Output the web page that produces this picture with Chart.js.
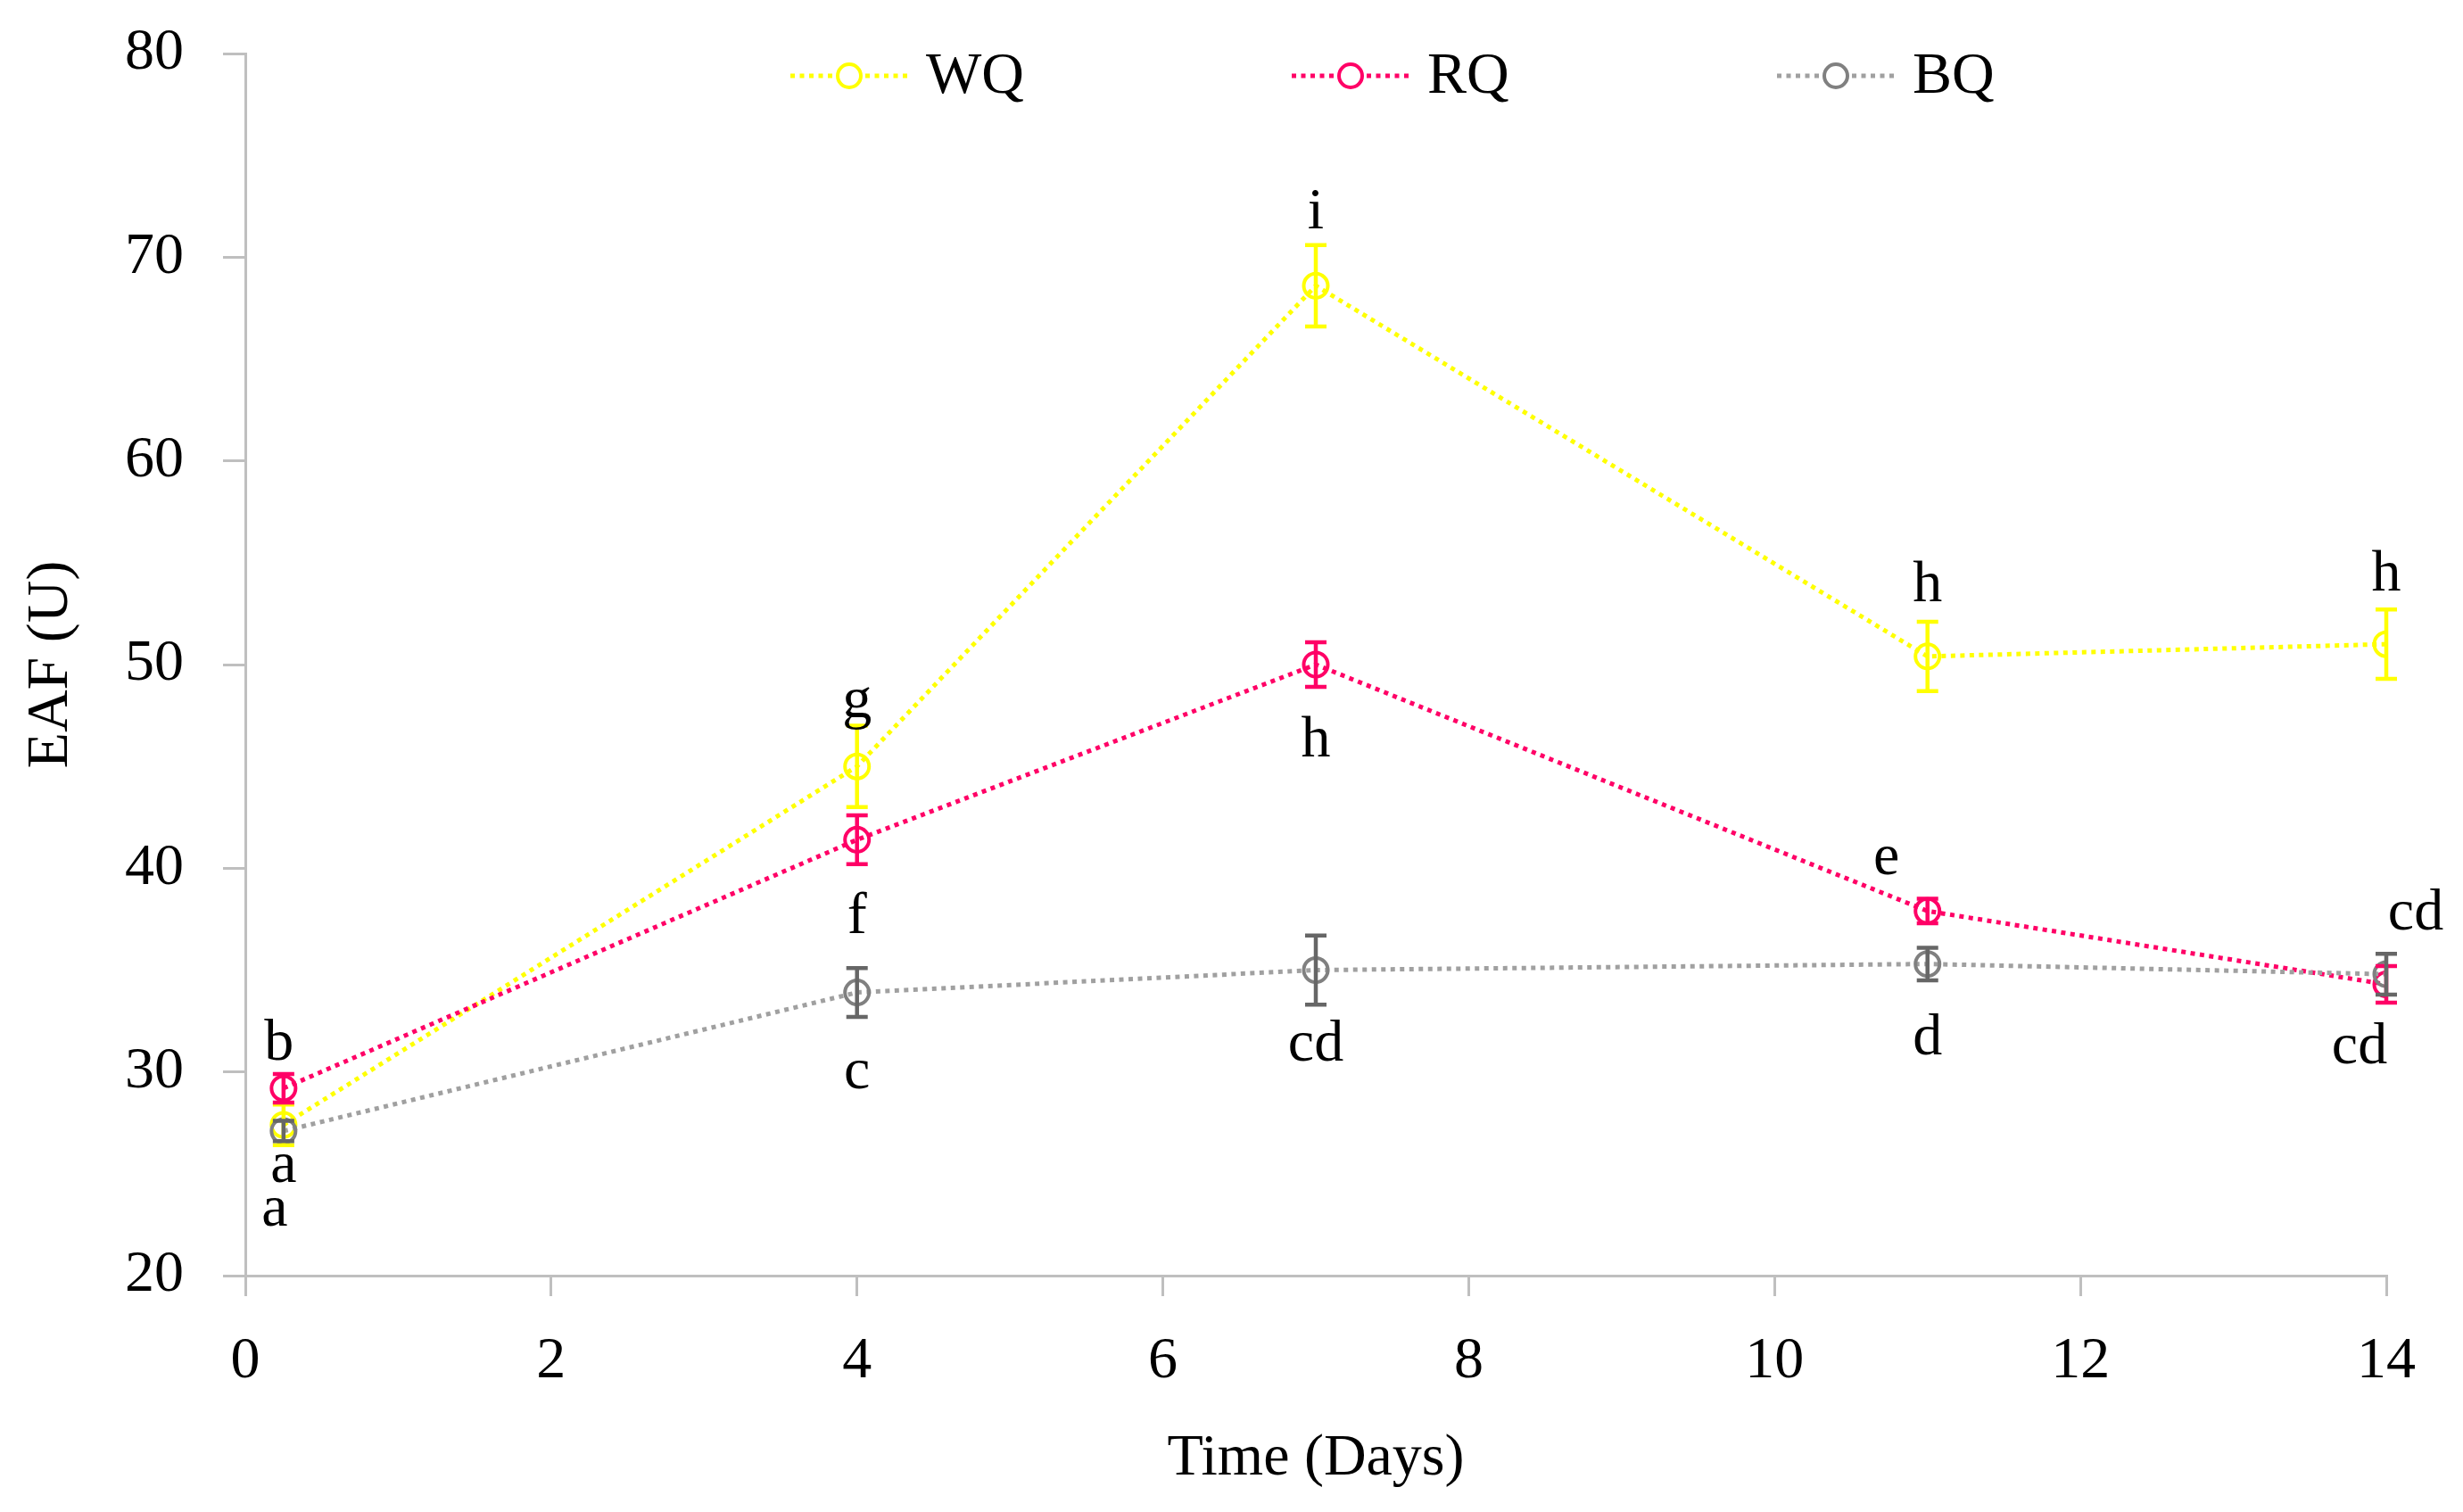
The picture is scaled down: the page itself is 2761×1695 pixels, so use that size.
<!DOCTYPE html>
<html>
<head>
<meta charset="utf-8">
<title>EAF over time</title>
<script src="https://cdn.jsdelivr.net/npm/chart.js@4.4.1/dist/chart.umd.min.js"></script>
<style>
    html, body { margin: 0; padding: 0; background: #fff; }
    #wrap { width: 2761px; height: 1695px; }
</style>
</head>
<body>
<div id="wrap"><canvas id="eafChart"></canvas></div>
<script>
// data
var days = [0.25, 4, 7, 11, 14];
var seriesNames = ['WQ', 'RQ', 'BQ'];
var wqValues = [27.4, 45.0, 68.6, 50.4, 51.0];
var rqValues = [29.2, 41.4, 50.0, 37.9, 34.3];
var bqValues = [27.1, 33.9, 35.0, 35.3, 34.8];
var wqErrors = [1.0, 2.0, 2.0, 1.7, 1.7];
var rqErrors = [0.7, 1.2, 1.1, 0.6, 0.9];
var bqErrors = [0.5, 1.2, 1.7, 0.8, 1.0];
var wqLetters = ['a', 'g', 'i', 'h', 'h'];
var rqLetters = ['b', 'f', 'h', 'e', 'cd'];
var bqLetters = ['a', 'c', 'cd', 'd', 'cd'];
var yTicks = [20, 30, 40, 50, 60, 70, 80];
var xTicks = [0, 2, 4, 6, 8, 10, 12, 14];

var FONT = '"Liberation Serif", "Times New Roman", serif';
var FS = 66;
var AXIS = '#BFBFBF';

// where each letter sits relative to its marker (px)
var letterOffsets = [
    [[-10, 96], [0, -72], [0, -82], [0, -79], [0, -77]],
    [[-5, -49], [0, 87], [0, 86], [-46, -59], [-30, 71]],
    [[0, 40], [0, 90], [0, 84], [0, 84], [33, -67]]
];

function points(vals) {
    return days.map(function(d, i) { return { x: d, y: vals[i] }; });
}

var styles = [
    { line: '#FFFF00', marker: '#FFFF00', bar: '#FFFF00' },
    { line: '#FF0066', marker: '#FF0066', bar: '#FF0066' },
    { line: '#A0A0A0', marker: '#808080', bar: '#666666' }
];
var allValues = [wqValues, rqValues, bqValues];
var allErrors = [wqErrors, rqErrors, bqErrors];
var allLetters = [wqLetters, rqLetters, bqLetters];

var datasets = seriesNames.map(function(name, i) {
    return {
        label: name,
        data: points(allValues[i]),
        borderColor: styles[i].line,
        borderWidth: 5,
        borderDash: [5, 5.5],
        pointRadius: 13.5,
        pointBorderWidth: 4,
        pointBorderColor: styles[i].marker,
        pointBackgroundColor: 'rgba(0,0,0,0)',
        tension: 0,
        order: 3 - i,
        errors: allErrors[i],
        letters: allLetters[i]
    };
});

var errorBars = {
    id: 'errorBars',
    afterDatasetsDraw: function(chart) {
        var ctx = chart.ctx;
        var y = chart.scales.y;
        chart.data.datasets.forEach(function(ds, i) {
            var meta = chart.getDatasetMeta(i);
            ctx.save();
            ctx.strokeStyle = styles[i].bar;
            ctx.lineWidth = 4.5;
            meta.data.forEach(function(pt, j) {
                var v = ds.data[j].y, e = ds.errors[j];
                var top = y.getPixelForValue(v + e);
                var bot = y.getPixelForValue(v - e);
                ctx.beginPath();
                ctx.moveTo(pt.x, top); ctx.lineTo(pt.x, bot);
                ctx.moveTo(pt.x - 12, top); ctx.lineTo(pt.x + 12, top);
                ctx.moveTo(pt.x - 12, bot); ctx.lineTo(pt.x + 12, bot);
                ctx.stroke();
            });
            ctx.restore();
        });
    }
};

var letterLabels = {
    id: 'letterLabels',
    afterDatasetsDraw: function(chart) {
        var ctx = chart.ctx;
        ctx.save();
        ctx.font = FS + 'px ' + FONT;
        ctx.fillStyle = '#000';
        ctx.textAlign = 'center';
        ctx.textBaseline = 'middle';
        chart.data.datasets.forEach(function(ds, i) {
            var meta = chart.getDatasetMeta(i);
            meta.data.forEach(function(pt, j) {
                var off = letterOffsets[i][j];
                ctx.fillText(ds.letters[j], pt.x + off[0], pt.y + off[1]);
            });
        });
        ctx.restore();
    }
};

var topLegend = {
    id: 'topLegend',
    afterDraw: function(chart) {
        var ctx = chart.ctx;
        var cy = 85;
        var starts = [886, 1448, 1992];
        ctx.save();
        seriesNames.forEach(function(name, i) {
            var x0 = starts[i], x1 = x0 + 132, cx = x0 + 66;
            ctx.strokeStyle = styles[i].line;
            ctx.lineWidth = 5;
            ctx.setLineDash([5, 5.5]);
            ctx.beginPath(); ctx.moveTo(x0, cy); ctx.lineTo(x1, cy); ctx.stroke();
            ctx.setLineDash([]);
            ctx.lineWidth = 4;
            ctx.strokeStyle = styles[i].marker;
            ctx.fillStyle = '#fff';
            ctx.beginPath(); ctx.arc(cx, cy, 13, 0, Math.PI * 2); ctx.fill(); ctx.stroke();
            ctx.fillStyle = '#000';
            ctx.font = FS + 'px ' + FONT;
            ctx.textAlign = 'left';
            ctx.textBaseline = 'middle';
            ctx.fillText(name, x1 + 20, cy + 2);
        });
        ctx.restore();
    }
};

var ctx = document.getElementById('eafChart').getContext('2d');
var chart = new Chart(ctx, {
    type: 'line',
    data: { datasets: datasets },
    plugins: [errorBars, letterLabels, topLegend],
    options: {
        responsive: true,
        maintainAspectRatio: false,
        animation: false,
        layout: { padding: { top: 60, right: 86, left: 0, bottom: 0 } },
        plugins: {
            legend: { display: false },
            tooltip: { enabled: false }
        },
        scales: {
            x: {
                type: 'linear',
                min: 0,
                max: 14,
                afterBuildTicks: function(s) { s.ticks = xTicks.map(function(v) { return { value: v }; }); },
                afterFit: function(s) { s.height = 265; },
                ticks: { color: '#000', font: { family: FONT, size: FS }, padding: 34, maxRotation: 0 },
                grid: { drawOnChartArea: false, drawTicks: true, tickLength: 23, color: AXIS, lineWidth: 3 },
                border: { display: true, color: AXIS, width: 3 },
                title: { display: true, text: 'Time (Days)', color: '#000', font: { family: FONT, size: FS }, padding: { top: 0, bottom: 20 } }
            },
            y: {
                min: 20,
                max: 80,
                afterBuildTicks: function(s) { s.ticks = yTicks.map(function(v) { return { value: v }; }); },
                afterFit: function(s) {
                    s.width = 275;
                    s.paddingTop = 20;
                    s.paddingBottom = 20;
                },
                ticks: { color: '#000', font: { family: FONT, size: FS }, padding: 44 },
                grid: { drawOnChartArea: false, drawTicks: true, tickLength: 25, color: AXIS, lineWidth: 3 },
                border: { display: true, color: AXIS, width: 3 },
                title: { display: true, text: 'EAF (U)', color: '#000', font: { family: FONT, size: FS }, padding: { top: 18, bottom: 0 } }
            }
        }
    }
});
</script>
</body>
</html>
